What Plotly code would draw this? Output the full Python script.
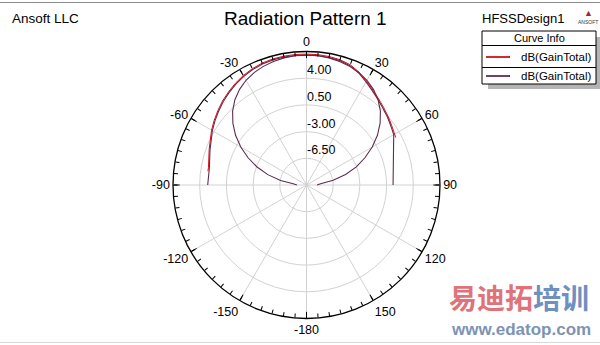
import plotly.graph_objects as go

# ---------------- data ----------------
# Outer cut (dB vs theta, degrees)
outer_theta = [-90, -80, -70, -60, -55, -50, -45, -40, -35, -30, -25, -20, -15, -10, -5, 0,
               5, 10, 15, 20, 25, 30, 35, 40, 45, 50, 55, 60, 90]
outer_db = [2.95, 2.93, 3.46, 4.25, 4.65, 5.05, 5.45, 5.8, 6.15, 6.45, 6.7, 6.88, 6.98, 7.03, 7.05, 7.04,
            7.03, 6.98, 6.88, 6.65, 6.2, 5.62, 5.07, 4.6, 4.2, 3.85, 3.5, 3.2, 1.35]
# red curve (first dB(GainTotal)) follows the outer cut over a narrower span
red_theta = [-82, -80, -70, -60, -55, -50, -45, -40, -35, -30, -25, -20, -15, -10, -5, 0,
             5, 10, 15, 20, 25, 30, 35, 40, 45, 50, 55, 62]
red_db = [3.05, 3.05, 3.58, 4.37, 4.77, 5.17, 5.57, 5.92, 6.27, 6.57, 6.82, 7.0, 7.1, 7.15, 7.17, 7.16,
          7.15, 7.1, 7.0, 6.77, 6.32, 5.74, 5.19, 4.72, 4.32, 3.97, 3.62, 3.25]
# inner cut (second dB(GainTotal))
inner_theta = [-90, -85, -80, -75, -70, -65, -60, -55, -50, -45, -40, -35, -30, -25, -20, -15, -10, -5, 0,
               5, 10, 15, 20, 25, 30, 35, 40, 45, 50, 55, 60, 65, 70, 75, 80, 85, 90]
inner_db = [-8.75, -8.25, -6.55, -4.75, -3.1, -1.55, -0.05, 1.35, 2.6, 3.7, 4.6, 5.3, 5.85, 6.25, 6.55, 6.76,
            6.92, 7.0, 7.02, 7.0, 6.92, 6.76, 6.55, 6.25, 5.85, 5.3, 4.6, 3.7, 2.6, 1.35, -0.05, -1.55,
            -3.05, -4.7, -6.45, -8.15, -8.62]

r_range = [-10, 7.5]
r_ticks = [-6.5, -3.0, 0.5, 4.0]
r_ticktext = ["-6.50", "-3.00", "0.50", "4.00"]
ang_ticks = [0, 30, 60, 90, 120, 150, 180, 210, 240, 270, 300, 330]
ang_ticktext = ["0", "30", "60", "90", "120", "150", "-180", "-150", "-120", "-90", "-60", "-30"]
minor_ticks = list(range(0, 360, 5))

series_names = ["dB(GainTotal)", "dB(GainTotal)"]
RED = "#d0101c"
PURPLE = "#5e2c4e"
FONT = "Liberation Sans, Arial, sans-serif"

fig = go.Figure()
fig.add_trace(go.Scatterpolar(r=outer_db, theta=outer_theta, mode="lines",
                              line=dict(color=PURPLE, width=1.1), showlegend=False))
fig.add_trace(go.Scatterpolar(r=inner_db, theta=inner_theta, mode="lines", name=series_names[1],
                              line=dict(color=PURPLE, width=1.1), showlegend=False))
fig.add_trace(go.Scatterpolar(r=red_db, theta=red_theta, mode="lines", name=series_names[0],
                              line=dict(color=RED, width=1.0), showlegend=False))
# overlay subplot used only for the fine 5-degree tick marks
fig.add_trace(go.Scatterpolar(r=[None], theta=[None], subplot="polar2", showlegend=False))

dom_x = [173 / 600, 440 / 600]
dom_y = [26.5 / 345, 293.5 / 345]

fig.update_layout(
    width=600, height=345,
    margin=dict(l=0, r=0, t=0, b=0),
    paper_bgcolor="white",
    font=dict(family=FONT, size=12, color="black"),
    showlegend=False,
    polar=dict(
        domain=dict(x=dom_x, y=dom_y),
        bgcolor="rgba(0,0,0,0)",
        angularaxis=dict(rotation=90, direction="clockwise",
                         tickmode="array", tickvals=ang_ticks, ticktext=ang_ticktext,
                         showline=True, linecolor="black", linewidth=1.3,
                         gridcolor="#d2d2d2", gridwidth=1,
                         ticks="inside", ticklen=6, tickcolor="black",
                         tickfont=dict(family=FONT, size=12.5, color="black")),
        radialaxis=dict(range=r_range, tickmode="array", tickvals=r_ticks,
                        ticktext=[t + "<br> " for t in r_ticktext],
                        angle=90, tickangle=90, side="clockwise", showline=False, ticks="",
                        gridcolor="#d2d2d2", gridwidth=1,
                        tickfont=dict(family=FONT, size=12.5, color="black")),
    ),
    polar2=dict(
        domain=dict(x=dom_x, y=dom_y),
        bgcolor="rgba(0,0,0,0)",
        angularaxis=dict(rotation=90, direction="clockwise",
                         tickmode="array", tickvals=minor_ticks,
                         ticktext=[""] * len(minor_ticks),
                         showline=False, showgrid=False,
                         ticks="inside", ticklen=4, tickcolor="black"),
        radialaxis=dict(visible=False, range=r_range),
    ),
)

# header texts
fig.add_annotation(x=10 / 600, y=1 - 18 / 345, xref="paper", yref="paper", xanchor="left", yanchor="middle",
                   text="Ansoft LLC", showarrow=False, font=dict(size=13.5))
fig.add_annotation(x=305 / 600, y=1 - 18 / 345, xref="paper", yref="paper", xanchor="center", yanchor="middle",
                   text="Radiation Pattern 1", showarrow=False, font=dict(size=19))
fig.add_annotation(x=480 / 600, y=1 - 18 / 345, xref="paper", yref="paper", xanchor="left", yanchor="middle",
                   text="HFSSDesign1", showarrow=False, font=dict(size=13))
fig.add_annotation(x=588 / 600, y=1 - 13 / 345, xref="paper", yref="paper", xanchor="center", yanchor="middle",
                   text="▲", showarrow=False, font=dict(size=9, color="#9a2a3a"))
fig.add_annotation(x=588 / 600, y=1 - 22 / 345, xref="paper", yref="paper", xanchor="center", yanchor="middle",
                   text="ANSOFT", showarrow=False, font=dict(size=5, color="#333"))

# frame lines
fig.add_shape(type="line", xref="paper", yref="paper", x0=0, x1=1, y0=1 - 2.5 / 345, y1=1 - 2.5 / 345,
              line=dict(color="#8c8c8c", width=1.2))
fig.add_shape(type="line", xref="paper", yref="paper", x0=0, x1=1, y0=1 - 342.5 / 345, y1=1 - 342.5 / 345,
              line=dict(color="#d8d8d8", width=1.2))

# custom "Curve Info" legend box
def px(x):
    return x / 600

def py(y):
    return 1 - y / 345

fig.add_shape(type="rect", xref="paper", yref="paper", x0=px(488), x1=px(600), y0=py(89), y1=py(37),
              line=dict(width=0), fillcolor="#b4b4b4")
fig.add_shape(type="rect", xref="paper", yref="paper", x0=px(482), x1=px(596), y0=py(84), y1=py(31),
              line=dict(color="black", width=1), fillcolor="white")
fig.add_shape(type="line", xref="paper", yref="paper", x0=px(482), x1=px(596), y0=py(45.5), y1=py(45.5),
              line=dict(color="black", width=1))
fig.add_shape(type="line", xref="paper", yref="paper", x0=px(482), x1=px(596), y0=py(67.5), y1=py(67.5),
              line=dict(color="black", width=1))
fig.add_annotation(x=px(539), y=py(38.5), xref="paper", yref="paper", text="Curve Info", showarrow=False,
                   font=dict(size=11), xanchor="center", yanchor="middle")
for i, (nm, col) in enumerate(zip(series_names, [RED, PURPLE])):
    yy = 57 + i * 19
    fig.add_shape(type="line", xref="paper", yref="paper", x0=px(486), x1=px(510), y0=py(yy), y1=py(yy),
                  line=dict(color=col, width=1.8))
    fig.add_annotation(x=px(593), y=py(yy - 0.5), xref="paper", yref="paper", text=nm, showarrow=False,
                       font=dict(size=11.5), xanchor="right", yanchor="middle")

# watermark
fig.add_annotation(x=px(447), y=py(297), xref="paper", yref="paper", xanchor="left", yanchor="middle",
                   text="<b><span style='color:#e0737a'>易迪拓</span><span style='color:#6f8fc0'>培训</span></b>",
                   showarrow=False, font=dict(family="Noto Sans CJK SC", size=28))
fig.add_annotation(x=px(593), y=py(329), xref="paper", yref="paper", xanchor="right", yanchor="middle",
                   text="<b>www.edatop.com</b>", showarrow=False,
                   font=dict(family="Liberation Sans, Arial", size=17, color="#7d93b5"))

fig.write_html("out.html")
